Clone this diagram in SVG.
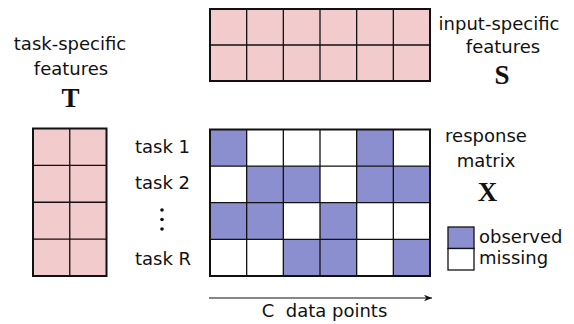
<svg xmlns="http://www.w3.org/2000/svg" width="574" height="324" viewBox="0 0 574 324">
<style>
text{font-family:"DejaVu Sans",sans-serif;font-size:18px;fill:#111}
.big{font-family:"Liberation Serif","DejaVu Serif",serif;font-weight:bold;font-size:27px}
.pink{fill:#f2cbcc}
.obs{fill:#8c8fcf}
.mis{fill:#ffffff}
.grid{stroke:#111;stroke-width:1.3;fill:none}
.frame{stroke:#111;stroke-width:2;fill:none}
</style>
<defs>
<marker id="ah" viewBox="0 0 10 10" refX="10" refY="5" markerWidth="11" markerHeight="8" markerUnits="userSpaceOnUse" orient="auto"><path d="M0,1 L10,5 L0,9 L3,5 Z" fill="#111"/></marker>
</defs>
<g id="S">
<rect class="pink" x="210" y="9" width="220" height="72"/>
<path class="grid" d="M246.67,9V81M283.33,9V81M320,9V81M356.67,9V81M393.33,9V81M210,45H430"/>
<rect class="frame" x="210" y="9" width="220" height="72"/>
<text x="499" y="30" text-anchor="middle">input-specific</text>
<text x="503" y="53" text-anchor="middle">features</text>
<text class="big" x="502" y="84" text-anchor="middle">S</text>
</g>
<g id="T">
<rect class="pink" x="33" y="128.5" width="73.5" height="147.5"/>
<path class="grid" d="M69.75,128.5V276M33,165.4H106.5M33,202.25H106.5M33,239.1H106.5"/>
<rect class="frame" x="33" y="128.5" width="73.5" height="147.5"/>
<text x="70" y="50" text-anchor="middle">task-specific</text>
<text x="71" y="75" text-anchor="middle">features</text>
<text class="big" x="70.5" y="107" text-anchor="middle">T</text>
</g>
<g id="X">
<rect class="mis" x="210" y="129.5" width="220" height="146.5"/>
<g class="obs">
<rect x="210" y="129.5" width="36.67" height="36.6"/>
<rect x="356.67" y="129.5" width="36.67" height="36.6"/>
<rect x="246.67" y="166.1" width="73.33" height="36.6"/>
<rect x="356.67" y="166.1" width="73.33" height="36.6"/>
<rect x="210" y="202.7" width="73.33" height="36.6"/>
<rect x="320" y="202.7" width="36.67" height="36.6"/>
<rect x="283.33" y="239.3" width="73.33" height="36.7"/>
<rect x="393.33" y="239.3" width="36.67" height="36.7"/>
</g>
<path class="grid" d="M246.67,129.5V276M283.33,129.5V276M320,129.5V276M356.67,129.5V276M393.33,129.5V276M210,166.1H430M210,202.7H430M210,239.3H430"/>
<rect class="frame" x="210" y="129.5" width="220" height="146.5"/>
<text x="486" y="142" text-anchor="middle">response</text>
<text x="486" y="167" text-anchor="middle">matrix</text>
<text class="big" x="487.5" y="201" text-anchor="middle">X</text>
</g>
<g id="tasks">
<text x="135" y="153">task 1</text>
<text x="135" y="189">task 2</text>
<circle cx="162" cy="210" r="1.8" fill="#111"/>
<circle cx="162" cy="219.5" r="1.8" fill="#111"/>
<circle cx="162" cy="229" r="1.8" fill="#111"/>
<text x="135" y="265">task R</text>
</g>
<g id="legend">
<rect class="obs" x="448" y="227" width="26" height="21.5" stroke="#111" stroke-width="1.3"/>
<rect class="mis" x="448" y="248.5" width="26" height="21.5" stroke="#111" stroke-width="1.3"/>
<text x="479" y="243">observed</text>
<text x="479" y="264">missing</text>
</g>
<g id="connectors">
<line x1="209" y1="298" x2="432" y2="298" stroke="#111" stroke-width="1.2" marker-end="url(#ah)"/>
</g>
<text x="324.5" y="317" text-anchor="middle" xml:space="preserve">C  data points</text>
</svg>
